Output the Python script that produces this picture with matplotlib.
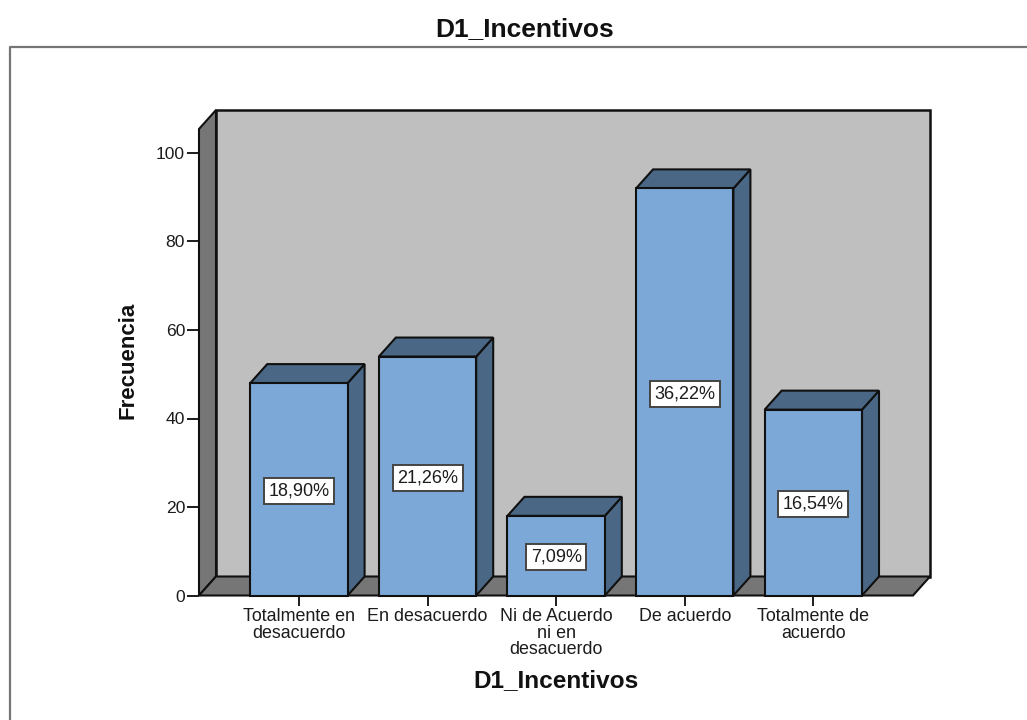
import matplotlib
matplotlib.use("Agg")
import matplotlib.pyplot as plt
from matplotlib.lines import Line2D
from matplotlib.patches import Polygon

plt.rcParams['font.family'] = ['Liberation Sans', 'DejaVu Sans']

categories = ["Totalmente en\ndesacuerdo", "En desacuerdo",
              "Ni de Acuerdo\nni en\ndesacuerdo", "De acuerdo",
              "Totalmente de\nacuerdo"]
counts = [48, 54, 18, 92, 42]
percent_labels = ["18,90%", "21,26%", "7,09%", "36,22%", "16,54%"]
y_ticks = [0, 20, 40, 60, 80, 100]

W, H = 1027, 720
fig = plt.figure(figsize=(W / 100, H / 100), dpi=100, facecolor="white")

# Plot area in pixels: front floor edge, left wall edge
left, right, top, bottom = 199, 913, 129, 595.5
ax = fig.add_axes([left / W, 1 - bottom / H, (right - left) / W, (bottom - top) / H])
ax.set_xlim(-0.777, 4.775)
ax.set_ylim(0, (bottom - top) / 4.425)
ax.patch.set_visible(False)
for s in ax.spines.values():
    s.set_visible(False)

x0, x1 = ax.get_xlim()
y1 = ax.get_ylim()[1]
dx = 17 / (W * ax.get_position().width) * (x1 - x0)
dy = 19 / 4.425
width = 0.757

WALL, SIDE = "#BFBFBF", "#767676"
FRONT, SHADE = "#7BA8D6", "#4A6885"
EDGE = "#101010"
INK = "#1C1C1C"


def face(pts, color, z, lw=1.5):
    ax.add_patch(Polygon(pts, closed=True, facecolor=color, edgecolor=EDGE,
                         linewidth=lw, joinstyle="miter", clip_on=False, zorder=z))


# Chart box
fig.add_artist(Line2D([10 / W, 10 / W, 1], [0, 1 - 47 / H, 1 - 47 / H], color="#767676", lw=1.6))

# Back wall, left wall and floor
face([(x0 + dx, dy), (x1 + dx, dy), (x1 + dx, y1 + dy), (x0 + dx, y1 + dy)], WALL, 1, 1.8)
face([(x0, 0), (x0 + dx, dy), (x0 + dx, y1 + dy), (x0, y1)], SIDE, 2)
face([(x0, 0), (x1, 0), (x1 + dx, dy), (x0 + dx, dy)], SIDE, 2)

# Bars with their top and side faces
for i, v in enumerate(counts):
    l, r = i - width / 2, i + width / 2
    z = 3 + i
    face([(r, 0), (r + dx, dy), (r + dx, v + dy), (r, v)], SHADE, z)
    face([(l, v), (r, v), (r + dx, v + dy), (l + dx, v + dy)], SHADE, z)
    ax.bar(i, v, width=width, color=FRONT, edgecolor=EDGE, linewidth=1.5,
           clip_on=False, zorder=z + 0.1)
    ax.annotate(percent_labels[i], (i, v / 2), xytext=(0, -1.2), textcoords="offset points",
                ha="center", va="center", fontsize=13, color=INK, zorder=20,
                bbox=dict(boxstyle="square,pad=0.25", facecolor="white",
                          edgecolor="#444444", linewidth=1.4))

ax.set_xticks(range(len(categories)))
ax.set_xticklabels(categories, fontsize=12.9, linespacing=0.98, color=INK)
ax.set_yticks(y_ticks)
ax.tick_params(axis="x", length=7.5, width=1.4, pad=1.5, color=INK)
ax.tick_params(axis="y", length=8.5, width=1.4, pad=1.5, labelsize=12.6,
               color=INK, labelcolor=INK)

fig.text(525 / W, 1 - 29 / H, "D1_Incentivos", ha="center", va="center",
         fontsize=19, fontweight="bold", color="#111111")
fig.text(556 / W, 1 - 681 / H, "D1_Incentivos", ha="center", va="center",
         fontsize=17.6, fontweight="bold", color="#111111")
fig.text(128 / W, 1 - 360 / H, "Frecuencia", ha="center", va="center", rotation=90,
         fontsize=16, fontweight="bold", color="#111111")

fig.savefig("out.png", dpi=100)
